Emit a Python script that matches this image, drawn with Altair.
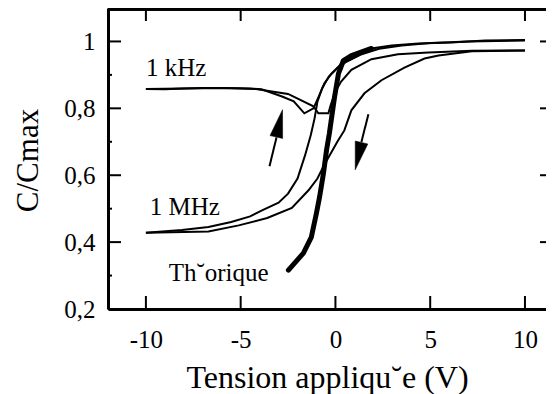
import altair as alt
import pandas as pd

# ---- data ----
khz_a_v = [-10, -9, -8, -7, -6, -5, -4.5, -3.9, -2.85, -2.2, -1.64, -1.16, -0.9, -0.58, -0.21, 0.32, 1.21, 1.9, 2.96, 4.38, 6.1, 7.9, 10]
khz_a_c = [0.858, 0.857, 0.859, 0.861, 0.861, 0.86, 0.859, 0.857, 0.836, 0.821, 0.785, 0.80, 0.833, 0.875, 0.904, 0.934, 0.958, 0.979, 0.988, 0.994, 0.997, 1.003, 1.004]

khz_b_v = [-10, -8, -6, -4.2, -2.5, -1.16, -0.9, -0.37, -0.25, 0.0, 0.3, 0.84, 1.9, 3.3, 4.9, 7.2, 10]
khz_b_c = [0.858, 0.859, 0.861, 0.858, 0.843, 0.806, 0.785, 0.785, 0.81, 0.85, 0.88, 0.915, 0.947, 0.962, 0.967, 0.972, 0.973]

mhz_l_v = [-10, -8.1, -6.7, -5.5, -4.5, -3.9, -3.0, -2.5, -2.0, -1.6, -1.3, -1.1, -0.95, -0.7, -0.35, 0.1, 0.6, 1.3, 2.3, 3.5, 5, 7, 10]
mhz_l_c = [0.428, 0.436, 0.445, 0.46, 0.477, 0.494, 0.518, 0.545, 0.59, 0.66, 0.72, 0.77, 0.82, 0.86, 0.895, 0.92, 0.94, 0.96, 0.978, 0.988, 0.995, 1.0, 1.003]

mhz_r_v = [-10, -8, -6.7, -5.1, -3.6, -2.3, -1.42, -0.95, -0.6, -0.25, 0.1, 0.47, 0.84, 1.53, 2.43, 3.64, 4.7, 5.44, 7.2, 10]
mhz_r_c = [0.428, 0.43, 0.432, 0.45, 0.472, 0.502, 0.555, 0.59, 0.63, 0.665, 0.70, 0.734, 0.794, 0.845, 0.884, 0.922, 0.949, 0.958, 0.971, 0.973]

theo_v = [-2.48, -1.69, -1.27, -1.0, -0.84, -0.63, -0.47, -0.32, -0.05, 0.16, 0.42, 0.84, 1.9]
theo_c = [0.316, 0.367, 0.415, 0.487, 0.534, 0.606, 0.675, 0.725, 0.833, 0.904, 0.943, 0.958, 0.979]

x_ticks = [-10, -5, 0, 5, 10]
y_ticks = [0.2, 0.4, 0.6, 0.8, 1.0]
y_minor = [0.3, 0.5, 0.7, 0.9]

labels_text = ["1 kHz", "1 MHz", "Th\u02d8orique"]
labels_v = [-10, -9.8, -8.8]
labels_c = [0.898, 0.48, 0.284]

arrow_tail_v = [-3.48, 1.74]
arrow_tail_c = [0.627, 0.782]
arrow_base_v = [-3.11, 1.37]
arrow_base_c = [0.713, 0.699]
arrow_head_v = [-2.955, 1.21]
arrow_head_c = [0.755, 0.657]
arrow_angle = [12.8, 193]

FONT = "'Liberation Serif', 'Times New Roman', Times, 'DejaVu Serif', serif"
W, H = 438, 301


def mk(name, vs, cs):
    return pd.DataFrame({"V": vs, "C": cs, "series": name, "i": list(range(len(vs)))})


thin = pd.concat([
    mk("1kHz a", khz_a_v, khz_a_c),
    mk("1kHz b", khz_b_v, khz_b_c),
    mk("1MHz L", mhz_l_v, mhz_l_c),
    mk("1MHz R", mhz_r_v, mhz_r_c),
], ignore_index=True)
theo = mk("theo", theo_v, theo_c)

xs = alt.Scale(domain=[-12, 11.11], nice=False, zero=False)
ys = alt.Scale(domain=[0.2, 1.1], nice=False, zero=False)

x_axis = alt.Axis(values=x_ticks, ticks=False, grid=False, domainWidth=3, domainColor="black",
                  labelFont=FONT, labelFontSize=25, labelColor="black", labelPadding=18,
                  labelExpr="'' + datum.value",
                  title="Tension appliqu\u02d8e (V)", titleFont=FONT, titleFontSize=32,
                  titleFontWeight="normal", titleColor="black", titleX=219, titleY=78,
                  titleBaseline="alphabetic", titleAlign="center")
y_axis = alt.Axis(values=y_ticks, ticks=False, grid=False, domainWidth=3, domainColor="black",
                  labelFont=FONT, labelFontSize=25, labelColor="black", labelPadding=13,
                  labelExpr="datum.value == 1 ? '1' : replace(format(datum.value, '.1f'), '.', ',')",
                  title="C/Cmax", titleFont=FONT, titleFontSize=31, titleFontWeight="normal",
                  titleColor="black", titleX=-71, titleY=152, titleBaseline="alphabetic",
                  titleAlign="center", titleAngle=270)


def X(f):
    return alt.X(f, scale=xs, axis=x_axis)


def Y(f):
    return alt.Y(f, scale=ys, axis=y_axis)


lines = alt.Chart(thin).mark_line(color="black", strokeWidth=2).encode(
    x=X("V:Q"), y=Y("C:Q"), detail="series:N", order="i:Q")

theo_line = alt.Chart(theo).mark_line(color="black", strokeWidth=5, strokeCap="round",
                                      strokeJoin="round").encode(
    x=X("V:Q"), y=Y("C:Q"), order="i:Q")

xt = pd.DataFrame({"V": x_ticks})
yt = pd.DataFrame({"C": y_ticks})
ym = pd.DataFrame({"C": y_minor})

bottom_ticks = alt.Chart(xt).mark_rule(color="black", strokeWidth=2).encode(
    x=X("V:Q"), y=alt.value(H), y2=alt.value(H - 13))
top_ticks = alt.Chart(xt).mark_rule(color="black", strokeWidth=2).encode(
    x=X("V:Q"), y=alt.value(0), y2=alt.value(13))
left_ticks = alt.Chart(yt).mark_rule(color="black", strokeWidth=2).encode(
    y=Y("C:Q"), x=alt.value(0), x2=alt.value(13))
left_minor = alt.Chart(ym).mark_rule(color="black", strokeWidth=2).encode(
    y=Y("C:Q"), x=alt.value(0), x2=alt.value(4))
right_ticks = alt.Chart(yt).mark_rule(color="black", strokeWidth=2).encode(
    y=Y("C:Q"), x=alt.value(W - 6), x2=alt.value(W))
top_line = alt.Chart(xt).mark_rule(color="black", strokeWidth=3).encode(
    x=alt.value(0), x2=alt.value(W), y=alt.value(1))

lab = pd.DataFrame({"t": labels_text, "V": labels_v, "C": labels_c})
texts = alt.Chart(lab).mark_text(font=FONT, fontSize=25, align="left", baseline="alphabetic",
                                 color="black").encode(
    x=X("V:Q"), y=Y("C:Q"), text="t:N")

arr = pd.DataFrame({"tv": arrow_tail_v, "tc": arrow_tail_c, "bv": arrow_base_v, "bc": arrow_base_c,
                    "hv": arrow_head_v, "hc": arrow_head_c, "ang": arrow_angle})
shafts = alt.Chart(arr).mark_rule(color="black", strokeWidth=2).encode(
    x=X("tv:Q"), y=Y("tc:Q"), x2="bv:Q", y2="bc:Q")
heads = alt.Chart(arr).mark_point(shape="M 0 -1 L 0.46 1 L -0.46 1 Z", filled=True,
                                  fill="black", stroke="black", strokeWidth=0.5,
                                  size=784, opacity=1).encode(
    x=X("hv:Q"), y=Y("hc:Q"), angle=alt.Angle("ang:Q", scale=None))

chart = alt.layer(
    lines, theo_line, bottom_ticks, top_ticks, left_ticks, left_minor, right_ticks, top_line,
    texts, shafts, heads,
).properties(
    width=W, height=H,
    autosize=alt.AutoSizeParams(type="none"),
    padding={"left": 100, "top": 0, "right": 0, "bottom": 85},
    background="white",
).configure_view(stroke=None).configure_axis(
    labelFont=FONT, titleFont=FONT, labelColor="black", titleColor="black"
)

chart.save("out.html", embed_options={"renderer": "svg", "actions": False})
